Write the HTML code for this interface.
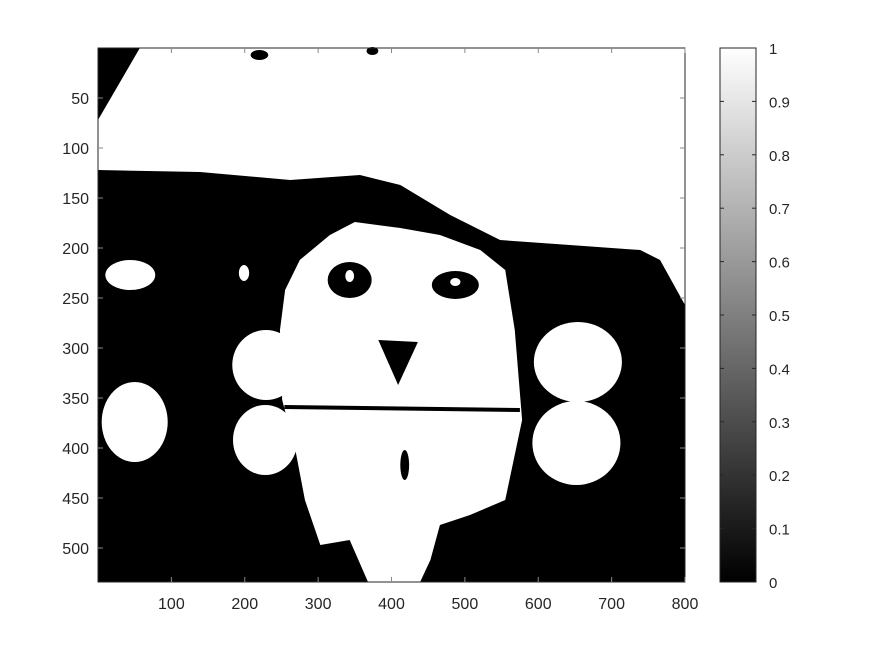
<!DOCTYPE html>
<html><head><meta charset="utf-8"><style>
html,body{margin:0;padding:0;background:#fff;width:875px;height:656px;overflow:hidden}
svg text{font-family:"Liberation Sans",sans-serif;font-size:16px;fill:#262626}
</style></head><body>
<svg id="fig" width="875" height="656" viewBox="0 0 875 656" xmlns="http://www.w3.org/2000/svg">
<defs><linearGradient id="cg" x1="0" y1="1" x2="0" y2="0"><stop offset="0" stop-color="#000"/><stop offset="1" stop-color="#fff"/></linearGradient></defs>
<rect x="98" y="48" width="587" height="534" fill="#000"/>
<g id="img" transform="translate(98,48) scale(0.73375,1)"></g>
<rect x="98" y="48" width="587" height="534" fill="none" stroke="#262626" stroke-width="1"/>
<g id="axes"></g>
<rect x="720" y="48" width="36" height="534" fill="url(#cg)" stroke="#262626" stroke-width="1"/>
<g id="cbar"></g>
</svg>
<script>
const xTicks=[100,200,300,400,500,600,700,800];
const yTicks=[50,100,150,200,250,300,350,400,450,500];
const cTicks=[0,0.1,0.2,0.3,0.4,0.5,0.6,0.7,0.8,0.9,1];
const whitePolys=[
 [[57,0],[800,0],[800,257],[766,212],[739,202],[643,197],[548,192],[480,167],[412,137],[357,127],[262,132],[139,124],[0,122],[0,72]],
 [[275,212],[316,187],[350,174],[412,180],[466,187],[521,202],[555,222],[568,282],[578,372],[555,452],[507,467],[466,477],[453,512],[439,534],[368,534],[343,492],[303,497],[282,452],[269,402],[251,352],[248,282],[255,242]]
];
const whiteEllipses=[[229,317,46,35],[228,392,44,35],[654,314,60,40],[652,395,60,42],[44,227,34,15],[50,374,45,40],[199,225,7,8]];
const blackEllipses=[[220,7,12,5],[374,3,8,4],[343,232,30,18],[487,237,32,14],[418,417,6,15]];
const blackPolys=[[[382,292],[436,294],[409,337]],[[254,357],[575,360],[575,364],[254,361]]];
const X0=98,X1=685,Y0=48,Y1=582;
const xs=v=>X0+v*(X1-X0)/800, ys=v=>Y0+v*(Y1-Y0)/534;
const NS="http://www.w3.org/2000/svg";
function mk(t,a,p){const e=document.createElementNS(NS,t);for(const k in a)e.setAttribute(k,a[k]);p.appendChild(e);return e;}
const img=document.getElementById('img');
whitePolys.forEach(p=>{const e=mk('polygon',{points:p.map(q=>q.join(',')).join(' '),fill:'#fff'},img);

});
whiteEllipses.forEach(c=>{const e=mk('ellipse',{cx:c[0],cy:c[1],rx:c[2],ry:c[3],fill:'#fff'},img);

});
blackEllipses.forEach(c=>{const e=mk('ellipse',{cx:c[0],cy:c[1],rx:c[2],ry:c[3],fill:'#000'},img);

});
blackPolys.forEach(p=>{const e=mk('polygon',{points:p.map(q=>q.join(',')).join(' '),fill:'#000'},img);

});
[[343,228,6,6],[487,234,7,4]].forEach(c=>{const e=mk('ellipse',{cx:c[0],cy:c[1],rx:c[2],ry:c[3],fill:'#fff'},img);

});
const ax=document.getElementById('axes');
xTicks.forEach(v=>{const x=xs(v);
mk('line',{x1:x,y1:Y1,x2:x,y2:Y1-5,stroke:'#888'},ax);mk('line',{x1:x,y1:Y0,x2:x,y2:Y0+5,stroke:'#888'},ax);
const t=mk('text',{x:x,y:Y1+27,'text-anchor':'middle'},ax);t.textContent=v;

});
yTicks.forEach(v=>{const y=ys(v);
mk('line',{x1:X0,y1:y,x2:X0+5,y2:y,stroke:'#888'},ax);mk('line',{x1:X1,y1:y,x2:X1-5,y2:y,stroke:'#888'},ax);
const t=mk('text',{x:X0-9,y:y+6,'text-anchor':'end'},ax);t.textContent=v;

});
const cb=document.getElementById('cbar');
cTicks.forEach(v=>{const y=Y1-v*(Y1-Y0);
mk('line',{x1:720,y1:y,x2:724,y2:y,stroke:'#262626'},cb);mk('line',{x1:756,y1:y,x2:752,y2:y,stroke:'#262626'},cb);
const t=mk('text',{x:769,y:y+6,style:'font-size:15px'},cb);t.textContent=v;

});
</script>
</body></html>
